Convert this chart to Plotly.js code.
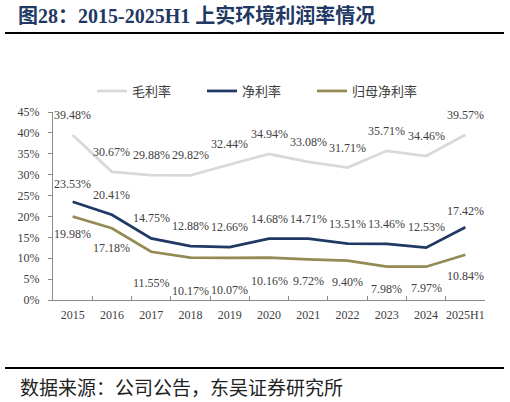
<!DOCTYPE html>
<html>
<head>
<meta charset="utf-8">
<script src="https://cdn.plot.ly/plotly-3.0.1.min.js"></script>
<style>
  html, body { margin: 0; padding: 0; background: #fff; }
  #chart { width: 510px; height: 402px; }
</style>
</head>
<body>
<div id="chart"></div>
<script>
// years and margins (%)
var years = ['2015', '2016', '2017', '2018', '2019', '2020', '2021', '2022', '2023', '2024', '2025H1'];
var grossMargin = [39.48, 30.67, 29.88, 29.82, 32.44, 34.94, 33.08, 31.71, 35.71, 34.46, 39.57];
var netMargin = [23.53, 20.41, 14.75, 12.88, 12.66, 14.68, 14.71, 13.51, 13.46, 12.53, 17.42];
var parentNetMargin = [19.98, 17.18, 11.55, 10.17, 10.07, 10.16, 9.72, 9.40, 7.98, 7.97, 10.84];
var yTicks = [0, 5, 10, 15, 20, 25, 30, 35, 40, 45];

// label offsets (px) so the numbers sit like the original
var netShift = [18, 20, 20, 20, 20, 20, 20, 20, 20, 21, 16];
var parentShift = [-17, -20, -31, -33, -32, -23, -22, -21, -22, -21, -21];

var W = 510, H = 402;
var mL = 53, mR = 25, mT = 112, mB = 102;
var plotW = W - mL - mR, plotH = H - mT - mB;
function px2x(px) { return (px - mL) / plotW; }      // pixel column -> paper x
function py(px) { return (H - mB - px) / plotH; }    // pixel row -> paper y

var serif = 'Liberation Serif, Times New Roman, serif';
var cjk = 'Noto Sans CJK SC, sans-serif';
var textCol = '#404040';
var axisCol = '#8c8c8c';

var series = [
  {name: '毛利率', y: grossMargin, color: '#d9d9d9'},
  {name: '净利率', y: netMargin, color: '#1f3864'},
  {name: '归母净利率', y: parentNetMargin, color: '#948a54'}
];

var data = series.map(function (s) {
  return {
    x: years, y: s.y, name: s.name, type: 'scatter', mode: 'lines',
    line: {color: s.color, width: 2.75}, hoverinfo: 'skip'
  };
});

var annotations = [];
function addLabels(vals, shifts) {
  for (var i = 0; i < vals.length; i++) {
    annotations.push({
      x: i, y: vals[i], xref: 'x', yref: 'y',   // category index
      text: vals[i].toFixed(2) + '%', showarrow: false,
      yanchor: 'middle', yshift: shifts[i],
      font: {family: serif, size: 12, color: textCol}
    });
  }
}
addLabels(grossMargin, grossMargin.map(function () { return 20; }));
addLabels(netMargin, netShift);
addLabels(parentNetMargin, parentShift);

// source note
annotations.push({
  xref: 'paper', yref: 'paper', x: px2x(18), y: py(386),
  xanchor: 'left', yanchor: 'middle', showarrow: false,
  text: '数据来源：公司公告，东吴证券研究所',
  font: {family: cjk, size: 19, color: '#222'}
});

var layout = {
  width: W, height: H,
  margin: {l: mL, r: mR, t: mT, b: mB, pad: 0},
  paper_bgcolor: '#fff', plot_bgcolor: '#fff',
  showlegend: true,
  title: {
    text: '<b>图28：2015-2025H1 上实环境利润率情况</b>',
    x: 18 / W, xanchor: 'left', xref: 'container',
    y: 1 - 16 / H, yanchor: 'middle', yref: 'container',
    font: {family: 'Liberation Serif, Noto Sans CJK SC, serif', size: 20, color: '#1f3864'}
  },
  legend: {
    orientation: 'h', x: px2x(92), xanchor: 'left',
    y: py(91), yanchor: 'middle',
    font: {family: cjk, size: 13, color: textCol},
    entrywidth: 65, entrywidthmode: 'pixels',
    bgcolor: 'rgba(0,0,0,0)'
  },
  xaxis: {
    type: 'category', range: [-0.5, years.length - 0.5],
    showgrid: false, zeroline: false,
    showline: true, linecolor: axisCol, linewidth: 1,
    ticks: 'inside', tickson: 'boundaries', ticklen: 4, tickcolor: axisCol,
    tickfont: {family: serif, size: 12, color: textCol}, tickangle: 0,
    ticklabelstandoff: 4, fixedrange: true
  },
  yaxis: {
    range: [0, 45], tickvals: yTicks, ticktext: yTicks.map(function (v) { return v + '%'; }),
    showgrid: false, zeroline: false,
    showline: true, linecolor: axisCol, linewidth: 1,
    ticks: 'outside', ticklen: 4, tickcolor: axisCol,
    tickfont: {family: serif, size: 12, color: textCol},
    ticklabelstandoff: 6, fixedrange: true
  },
  shapes: [
    {type: 'line', xref: 'paper', yref: 'paper', x0: px2x(5), x1: px2x(504),
     y0: py(33), y1: py(33), line: {color: '#000', width: 2}},
    {type: 'line', xref: 'paper', yref: 'paper', x0: px2x(5), x1: px2x(504),
     y0: py(368), y1: py(368), line: {color: '#000', width: 2}}
  ],
  annotations: annotations
};

Plotly.newPlot('chart', data, layout, {displayModeBar: false, staticPlot: true});
</script>
</body>
</html>
